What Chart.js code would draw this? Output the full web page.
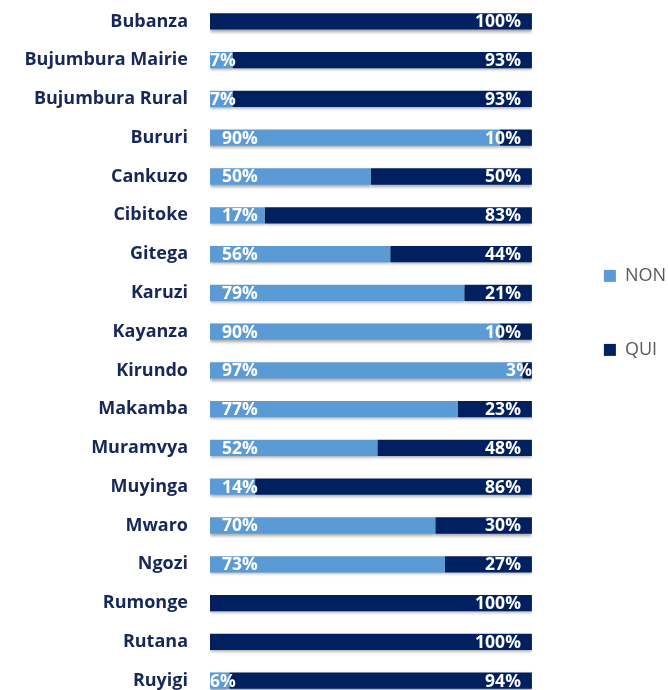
<!DOCTYPE html>
<html>
<head>
<meta charset="utf-8">
<script src="https://cdn.jsdelivr.net/npm/chart.js@4.4.1/dist/chart.umd.min.js"></script>
<style>
  html, body { margin: 0; padding: 0; overflow: hidden; background: #fff; }
</style>
</head>
<body>
<canvas id="chart" width="668" height="700"></canvas>
<script>
// Provinces et réponses (%)
const provinces = ['Bubanza', 'Bujumbura Mairie', 'Bujumbura Rural', 'Bururi', 'Cankuzo', 'Cibitoke',
  'Gitega', 'Karuzi', 'Kayanza', 'Kirundo', 'Makamba', 'Muramvya', 'Muyinga', 'Mwaro', 'Ngozi',
  'Rumonge', 'Rutana', 'Ruyigi'];
const non = [0, 7, 7, 90, 50, 17, 56, 79, 90, 97, 77, 52, 14, 70, 73, 0, 0, 6];
const qui = [100, 93, 93, 10, 50, 83, 44, 21, 10, 3, 23, 48, 86, 30, 27, 100, 100, 94];

const fontFamily = '"Open Sans", "Liberation Sans", sans-serif';

// ombre légère sous les barres
const barShadow = {
  id: 'barShadow',
  beforeDatasetsDraw(chart) {
    const c = chart.ctx;
    c.save();
    c.shadowColor = 'rgba(0,0,0,0.35)';
    c.shadowBlur = 3;
    c.shadowOffsetY = 2;
  },
  afterDatasetsDraw(chart) {
    chart.ctx.restore();
  }
};

// étiquettes de valeurs dans les barres
const valueLabels = {
  id: 'valueLabels',
  afterDatasetsDraw(chart) {
    const c = chart.ctx;
    const xs = chart.scales.x;
    const barStart = xs.getPixelForValue(0);
    const barEnd = xs.getPixelForValue(100);
    c.save();
    c.font = 'bold 17.5px ' + fontFamily;
    c.fillStyle = '#ffffff';
    c.textBaseline = 'middle';
    c.textAlign = 'left';
    chart.data.datasets.forEach((ds, i) => {
      const meta = chart.getDatasetMeta(i);
      meta.data.forEach((bar, j) => {
        const v = ds.data[j];
        if (!v) return;
        const txt = v + '%';
        const w = c.measureText(txt).width;
        const segW = Math.abs(bar.x - bar.base);
        let x;
        if (i === 0) {
          x = segW < w ? (bar.base + bar.x) / 2 - w / 2 : bar.base + 12;
        } else {
          x = segW < w / 2 ? (bar.base + bar.x) / 2 - w / 2 : bar.x - 11 - w;
        }
        x = Math.max(barStart, Math.min(x, barEnd - w));
        c.fillText(txt, x, bar.y + 1);
      });
    });
    c.restore();
  }
};

const ctx = document.getElementById('chart').getContext('2d');
const chart = new Chart(ctx, {
  type: 'bar',
  data: {
    labels: provinces,
    datasets: [
      { label: 'NON', data: non, backgroundColor: '#5B9BD5', borderWidth: 0 },
      { label: 'QUI', data: qui, backgroundColor: '#002060', borderWidth: 0 }
    ]
  },
  options: {
    indexAxis: 'y',
    responsive: false,
    animation: false,
    layout: { padding: { top: 2, right: -8 } },
    datasets: {
      bar: { categoryPercentage: 1, barPercentage: 0.42 }
    },
    scales: {
      x: {
        stacked: true,
        min: 0,
        max: 100,
        display: false
      },
      y: {
        stacked: true,
        grid: { display: false },
        border: { display: false },
        ticks: {
          padding: 14,
          color: '#16285a',
          font: { family: fontFamily, size: 18, weight: 'bold' }
        },
        afterFit(scale) {
          scale.width = 210;
          scale.paddingTop = 0;
          scale.paddingBottom = 0;
        }
      },
      gap: {
        type: 'category',
        position: 'right',
        grid: { display: false },
        border: { display: false },
        ticks: { display: false },
        afterFit(scale) { scale.width = 53; }
      }
    },
    plugins: {
      legend: {
        position: 'right',
        align: 'start',
        title: { display: true, text: ' ', padding: { top: 231.5, bottom: 0 } },
        labels: {
          boxWidth: 12,
          boxHeight: 12,
          padding: 19,
          color: '#595959',
          font: { family: fontFamily, size: 18 },
          generateLabels(chart) {
            // un élément vide entre NON et QUI pour l'espacement
            const items = Chart.defaults.plugins.legend.labels.generateLabels(chart);
            items.splice(1, 0, {
              text: '', fillStyle: 'rgba(0,0,0,0)', strokeStyle: 'rgba(0,0,0,0)',
              lineWidth: 0, hidden: false, datasetIndex: -1
            });
            return items;
          }
        },
        onClick() {}
      },
      tooltip: { enabled: false }
    }
  },
  plugins: [barShadow, valueLabels]
});
</script>
</body>
</html>
